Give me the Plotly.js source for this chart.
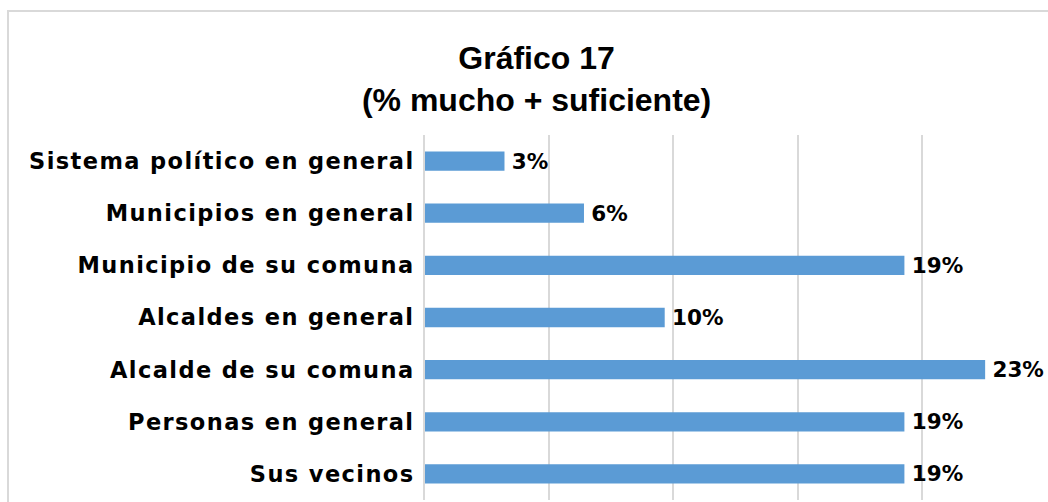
<!DOCTYPE html>
<html>
<head>
<meta charset="utf-8">
<script src="https://cdn.plot.ly/plotly-3.0.1.min.js"></script>
<style>
  html, body { margin: 0; padding: 0; background: #ffffff; }
  #wrap { position: relative; width: 1048px; height: 502px; overflow: hidden; }
  #chart { position: absolute; left: 0; top: 0; width: 1048px; height: 502px; }
  #frame { position: absolute; left: 7px; top: 10px; width: 1100px; height: 600px;
           border: 2px solid #d9d9d9; box-sizing: border-box; pointer-events: none; }
  #chart .ytick text { letter-spacing: 1.4px; }
</style>
</head>
<body>
<div id="wrap">
  <div id="chart"></div>
  <div id="frame"></div>
</div>
<script>
const categories = [
  "Sistema político en general",
  "Municipios en general",
  "Municipio de su comuna",
  "Alcaldes en general",
  "Alcalde de su comuna",
  "Personas en general",
  "Sus vecinos"
];
const values = [3.2, 6.4, 19.3, 9.65, 22.55, 19.3, 19.3];
const valueLabels = ["3%", "6%", "19%", "10%", "23%", "19%", "19%"];

const trace = {
  type: "bar",
  orientation: "h",
  y: categories,
  x: values,
  text: valueLabels,
  texttemplate: "\u2009%{text}",
  textposition: "outside",
  constraintext: "none",
  cliponaxis: false,
  textfont: { family: "DejaVu Sans", size: 21.5, color: "#000000", weight: "bold" },
  marker: { color: "#5b9bd5" },
  hoverinfo: "none"
};

const layout = {
  width: 1048,
  height: 502,
  margin: { l: 425, r: 2, t: 135, b: 2, pad: 0 },
  paper_bgcolor: "rgba(0,0,0,0)",
  plot_bgcolor: "rgba(0,0,0,0)",
  showlegend: false,
  bargap: 0.63,
  title: {
    text: "<b>Gráfico 17<br>(% mucho + suficiente)</b>",
    font: { family: "Liberation Sans", size: 32, color: "#000000" },
    x: 0.512,
    xanchor: "center",
    y: 0.862,
    yanchor: "top"
  },
  xaxis: {
    range: [0, 25],
    dtick: 5,
    tick0: 0,
    showticklabels: false,
    ticks: "",
    showgrid: true,
    gridcolor: "#d9d9d9",
    gridwidth: 2,
    zeroline: false,
    showline: false,
    fixedrange: true
  },
  yaxis: {
    autorange: "reversed",
    type: "category",
    ticks: "",
    showgrid: false,
    zeroline: false,
    showline: true,
    linecolor: "#d9d9d9",
    linewidth: 2,
    ticklabelstandoff: 4,
    tickfont: { family: "DejaVu Sans", size: 22.5, color: "#000000", weight: "bold" },
    fixedrange: true
  }
};

Plotly.newPlot("chart", [trace], layout, { displayModeBar: false, staticPlot: true });
</script>
</body>
</html>
